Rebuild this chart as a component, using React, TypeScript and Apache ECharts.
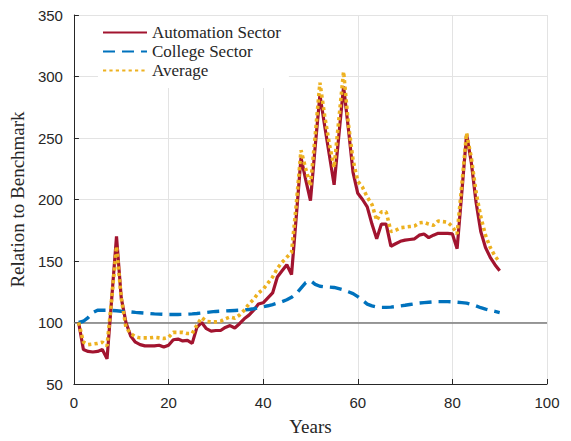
import React, { useEffect, useRef } from "react";
import * as echarts from "echarts";

const years = [
  1, 2, 3, 4, 5, 6, 7, 8, 9, 10, 11, 12, 13, 14, 15, 16, 17, 18, 19, 20,
  21, 22, 23, 24, 25, 26, 27, 28, 29, 30, 31, 32, 33, 34, 35, 36, 37, 38, 39, 40,
  41, 42, 43, 44, 45, 46, 47, 48, 49, 50, 51, 52, 53, 54, 55, 56, 57, 58, 59, 60,
  61, 62, 63, 64, 65, 66, 67, 68, 69, 70, 71, 72, 73, 74, 75, 76, 77, 78, 79, 80,
  81, 82, 83, 84, 85, 86, 87, 88, 89, 90,
];

const automation = [
  100, 78, 76.5, 76, 76.5, 78, 70.5, 120, 170, 120,
  100, 89, 84, 82, 81, 81, 81, 81.5, 80, 81.5,
  86, 86.5, 85, 85.5, 83, 96, 100, 95, 93, 93.5,
  93.5, 96, 97.5, 95.5, 99, 103, 106, 110, 115, 116,
  120, 124, 137, 142, 147, 139, 186, 234, 216, 199,
  243, 285, 260, 236, 212, 252, 292, 258, 222, 205,
  200, 194, 180, 168, 180, 180, 162, 164, 166, 167,
  167.5, 168, 171, 172, 169, 171, 172.5, 172.5, 172.5, 172,
  160, 206, 253, 230, 198, 174, 161, 153, 147, 142,
];

const college = [
  100, 101, 104, 108, 110, 110, 110, 109.8, 109.5, 109.2,
  109, 108.6, 108.2, 107.9, 107.6, 107.3, 107, 106.8, 106.6, 106.5,
  106.5, 106.5, 106.6, 106.8, 107, 107.3, 107.7, 108.2, 108.6, 109,
  109.2, 109.4, 109.6, 109.8, 110, 110.2, 110.6, 111.2, 112, 112.8,
  113.6, 114.6, 115.8, 117, 118.5, 120.5, 123.5, 128, 132.5, 134,
  131, 129.5, 129, 128.8, 128.5, 127.5, 126.5, 125, 123.5, 121,
  118, 115, 113.5, 112.6, 112.3, 112.3, 112.5, 113, 113.5, 114,
  114.6, 115.2, 115.8, 116.2, 116.5, 116.8, 117, 117, 117, 116.8,
  116.5, 116.2, 115.8, 114.8, 113.5, 112, 110.8, 109.8, 109, 108,
];

const average = [
  100, 84, 82, 82.5, 83, 84, 81, 120, 162, 120,
  96, 91, 88.5, 87.5, 87.5, 87.5, 88, 87.5, 87, 88,
  92, 92, 92, 91, 91, 98, 104, 101, 100.5, 100.5,
  101, 103, 104.5, 103.5, 106, 110, 115, 119, 124, 127,
  132, 137, 144, 149, 153, 157, 196, 240, 225, 211,
  252, 295, 268, 245, 226, 265, 304, 262, 232, 215,
  210, 202, 196, 183, 190, 190, 174, 175, 177, 177.5,
  178, 178.5, 181, 181.5, 180, 179, 182.5, 182, 181.5, 178,
  172, 212, 254, 234, 206, 186, 171, 161, 154, 149,
];

const seriesNames = ["Automation Sector", "College Sector", "Average"];
const benchmark = 100;
const xRange = [0, 100];
const yRange = [50, 350];

const pairs = (vals: number[]) => years.map((y, i) => [y, vals[i]]);

export default function App() {
  const ref = useRef<HTMLDivElement>(null);
  useEffect(() => {
    if (!ref.current) return;
    const chart = echarts.init(ref.current, null, { renderer: "svg" });
    const axisColor = "#262626";
    const gridColor = "#e3e3e3";
    chart.setOption({
      animation: false,
      backgroundColor: "#ffffff",
      grid: { left: 73, right: 24, top: 15, bottom: 55.5 },
      legend: {
        orient: "vertical",
        left: 98,
        top: 16,
        backgroundColor: "#ffffff",
        padding: [8, 8, 9, 4],
        itemWidth: 44,
        itemHeight: 14,
        itemGap: 2,
        data: seriesNames,
        itemStyle: { opacity: 0 },
        textStyle: {
          fontFamily: "Liberation Serif",
          fontSize: 17,
          color: "#262626",
        },
      },
      xAxis: {
        type: "value",
        min: xRange[0],
        max: xRange[1],
        interval: 20,
        name: "Years",
        nameLocation: "middle",
        nameGap: 33,
        nameTextStyle: { fontFamily: "Liberation Serif", fontSize: 19, color: "#262626" },
        axisLine: { show: true, lineStyle: { color: axisColor, width: 1 } },
        axisTick: { show: true, inside: true, length: 5, lineStyle: { color: axisColor } },
        axisLabel: { fontFamily: "Liberation Sans", fontSize: 15, color: axisColor, margin: 11 },
        splitLine: { show: true, lineStyle: { color: gridColor, width: 1 } },
      },
      yAxis: {
        type: "value",
        min: yRange[0],
        max: yRange[1],
        interval: 50,
        name: "Relation to Benchmark",
        nameLocation: "middle",
        nameGap: 42,
        nameTextStyle: { fontFamily: "Liberation Serif", fontSize: 19, color: "#262626" },
        axisLine: { show: true, lineStyle: { color: axisColor, width: 1 } },
        axisTick: { show: true, inside: true, length: 5, lineStyle: { color: axisColor } },
        axisLabel: { fontFamily: "Liberation Sans", fontSize: 15, color: axisColor, margin: 11 },
        splitLine: { show: true, lineStyle: { color: gridColor, width: 1 } },
      },
      series: [
        {
          name: seriesNames[0],
          type: "line",
          data: pairs(automation),
          showSymbol: false,
          symbol: "none",
          color: "#A2142F",
          lineStyle: { color: "#A2142F", width: 3.2 },
          markLine: {
            silent: true,
            symbol: "none",
            label: { show: false },
            lineStyle: { color: "#7a7a7a", width: 1.5, type: "solid" },
            data: [{ yAxis: benchmark }],
            z: 1,
          },
          z: 3,
        },
        {
          name: seriesNames[1],
          type: "line",
          data: pairs(college),
          showSymbol: false,
          symbol: "none",
          color: "#0072BD",
          lineStyle: { color: "#0072BD", width: 3.4, type: [12, 7] },
          z: 4,
        },
        {
          name: seriesNames[2],
          type: "line",
          data: pairs(average),
          showSymbol: false,
          symbol: "none",
          color: "#EDB120",
          lineStyle: { color: "#EDB120", width: 3.6, type: [3.2, 3.2] },
          z: 5,
        },
      ],
    });
    return () => chart.dispose();
  }, []);
  return <div ref={ref} style={{ width: 571, height: 441, marginLeft: -8, marginTop: -8 }} />;
}
